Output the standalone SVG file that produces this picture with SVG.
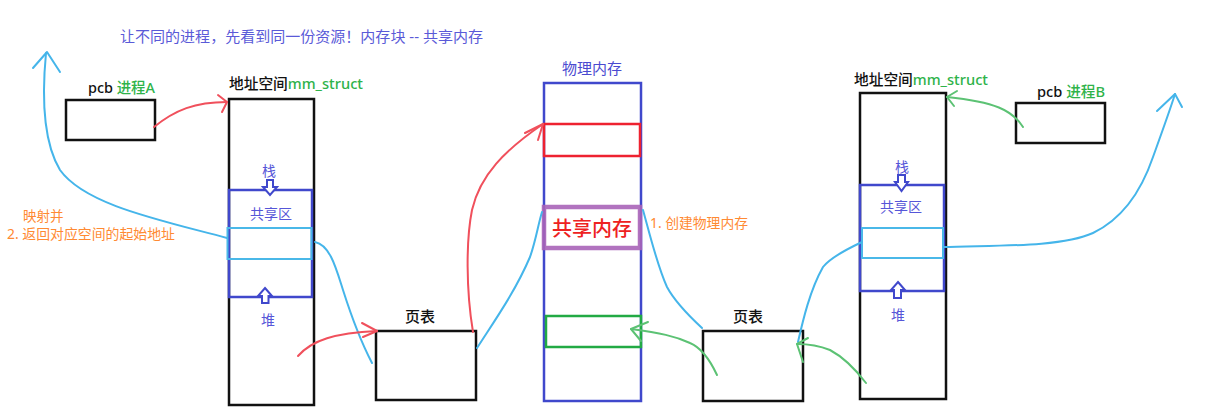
<svg xmlns="http://www.w3.org/2000/svg" width="1217" height="419" viewBox="0 0 1217 419">
<defs>
<style>
text{font-family:"Noto Sans","Noto Sans CJK SC",sans-serif}
.box{fill:none;stroke:#111;stroke-width:2.5}
.blu{fill:none;stroke:#4048cc;stroke-width:2.5}
.cy{fill:none;stroke:#45b5ea;stroke-width:2;stroke-linecap:round;stroke-linejoin:round}
.rd{fill:none;stroke:#f0505c;stroke-width:2;stroke-linecap:round;stroke-linejoin:round}
.gr{fill:none;stroke:#5cc274;stroke-width:2;stroke-linecap:round;stroke-linejoin:round}
.arw{fill:#fff;stroke:#4048cc;stroke-width:2}
.lbl{font-size:15px;fill:#111;font-weight:500}
.grn{fill:#2fb34a}
.bt{font-size:14px;fill:#5656d8}
.or{font-size:13.5px;fill:#ff8a33}
</style>
</defs>
<rect width="1217" height="419" fill="#fff"/>
<text x="120" y="42" font-size="14.5" fill="#5a5ad8" textLength="363" lengthAdjust="spacingAndGlyphs">让不同的进程，先看到同一份资源！内存块 -- 共享内存</text>
<g id="pcbA">
<rect class="box" x="66" y="100" width="89" height="40"/>
<text x="88" y="93" class="lbl" textLength="67" lengthAdjust="spacingAndGlyphs">pcb <tspan class="grn">进程A</tspan></text>
</g>
<g id="addrA">
<text x="229" y="89" class="lbl" textLength="134" lengthAdjust="spacingAndGlyphs">地址空间<tspan class="grn">mm_struct</tspan></text>
<rect class="box" x="229" y="99" width="85" height="306"/>
<rect class="blu" x="229" y="190" width="83" height="107"/>
<rect x="227.5" y="228" width="84" height="31" fill="none" stroke="#4ab8e8" stroke-width="2"/>
<text x="269" y="176" class="bt" text-anchor="middle">栈</text>
<polygon class="arw" points="267,180 273,180 273,187 277,187 270,195 263,187 267,187"/>
<text x="271" y="219" class="bt" text-anchor="middle">共享区</text>
<polygon class="arw" points="265,288 272,296 268.5,296 268.5,303 262,303 262,296 258,296"/>
<text x="268" y="325" class="bt" text-anchor="middle">堆</text>
</g>
<g id="noteA">
<text x="23" y="221" class="or">映射并</text>
<text x="7" y="239" class="or" textLength="168" lengthAdjust="spacingAndGlyphs">2. 返回对应空间的起始地址</text>
</g>
<g id="ptA">
<rect class="box" x="376" y="331" width="100" height="69"/>
<text x="420" y="322" class="lbl" text-anchor="middle">页表</text>
</g>
<g id="phys">
<text x="592" y="74" font-size="15" fill="#4a4ad0" text-anchor="middle">物理内存</text>
<rect class="blu" x="544" y="83" width="97" height="318"/>
<rect x="544" y="124" width="96" height="32" fill="none" stroke="#ee2230" stroke-width="2.5"/>
<rect x="544" y="207" width="96" height="41" fill="none" stroke="#a964b8" stroke-width="4.5" stroke-opacity="0.9"/>
<text x="592" y="236" font-size="20" font-weight="500" fill="#ee2222" text-anchor="middle">共享内存</text>
<rect x="546" y="316" width="95" height="31" fill="none" stroke="#22aa44" stroke-width="2.5"/>
<text x="650" y="228" class="or" textLength="98" lengthAdjust="spacingAndGlyphs">1. 创建物理内存</text>
</g>
<g id="ptB">
<rect class="box" x="703" y="331" width="100" height="70"/>
<text x="748" y="322" class="lbl" text-anchor="middle">页表</text>
</g>
<g id="addrB">
<text x="854" y="85" class="lbl" textLength="134" lengthAdjust="spacingAndGlyphs">地址空间<tspan class="grn">mm_struct</tspan></text>
<rect class="box" x="860" y="93" width="86" height="306"/>
<rect class="blu" x="860" y="185" width="84" height="106"/>
<rect x="862" y="228" width="81" height="30" fill="none" stroke="#4ab8e8" stroke-width="2"/>
<text x="902" y="172" class="bt" text-anchor="middle">栈</text>
<polygon class="arw" points="898,175 905,175 905,182 908,182 901.5,191 895,182 898,182"/>
<text x="901" y="212" class="bt" text-anchor="middle">共享区</text>
<polygon class="arw" points="898,282 905,290 901,290 901,298 894,298 894,290 891,290"/>
<text x="898" y="320" class="bt" text-anchor="middle">堆</text>
</g>
<g id="pcbB">
<rect class="box" x="1016" y="103" width="89" height="40"/>
<text x="1037" y="97" class="lbl" textLength="68" lengthAdjust="spacingAndGlyphs">pcb <tspan class="grn">进程B</tspan></text>
</g>
<g id="connectors">
<path class="cy" d="M227,238 C160,220 85,205 60,170 C42,140 42,95 46,53"/>
<path class="cy" d="M33,68 L47,52 L60,72"/>
<path class="rd" d="M154,127 C175,110 195,102 227,102"/>
<path class="rd" d="M218,95 L227,102 L222,112"/>
<path class="cy" d="M315,242 C330,245 336,268 343,290 C350,312 360,340 372,363"/>
<path class="rd" d="M298,356 C312,340 335,333 377,331"/>
<path class="rd" d="M362,323 L377,331 L363,337"/>
<path class="rd" d="M473,332 C466,290 466,240 472,210 C480,175 505,150 543,124"/>
<path class="rd" d="M525,133 L543,124 L538,140"/>
<path class="cy" d="M477,348 C495,320 515,292 530,257 C536,240 538,225 542,212"/>
<path class="cy" d="M643,210 C650,235 657,265 667,287 C675,302 688,315 702,328"/>
<path class="gr" d="M717,375 C710,360 702,348 690,343 C675,336 660,333 631,329"/>
<path class="gr" d="M648,322 L631,329 L641,341"/>
<path class="cy" d="M798,342 C803,320 810,290 823,267 C830,258 845,250 862,242"/>
<path class="gr" d="M866,383 C856,370 845,358 830,350 C820,346 812,344 797,344"/>
<path class="gr" d="M808,338 L797,344 L803,362"/>
<path class="cy" d="M943,247 C990,245 1060,248 1093,233 C1120,220 1140,195 1153,157 C1162,132 1170,110 1175,94"/>
<path class="cy" d="M1157,111 L1175,94 L1182,107"/>
<path class="gr" d="M1023,127 C1012,110 995,102 947,97"/>
<path class="gr" d="M957,91 L947,97 L954,106"/>
</g>
</svg>
